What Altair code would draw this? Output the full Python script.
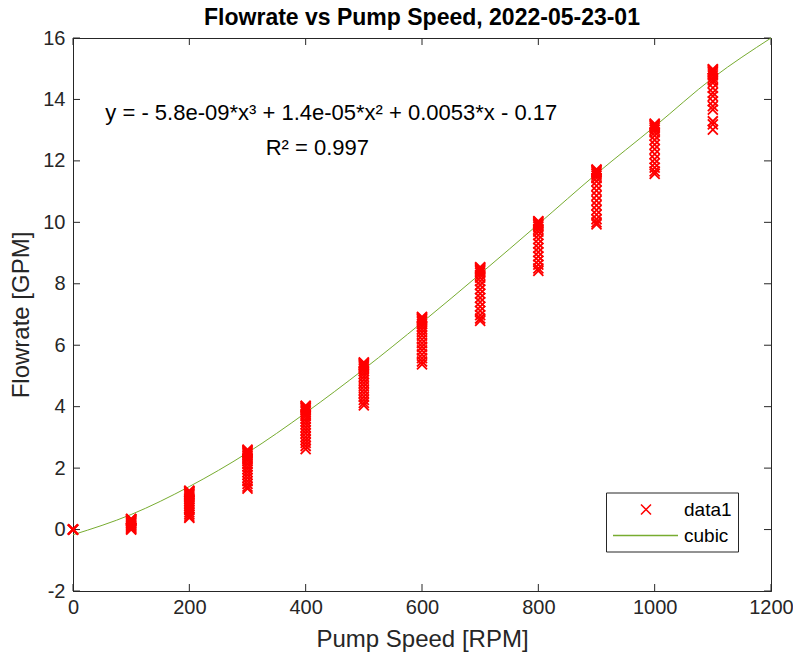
import altair as alt
import pandas as pd

# ---- data ----
speeds = [0, 100, 200, 300, 400, 500, 600, 700, 800, 900, 1000, 1100]
flow_0 = [0.0, 0.0, 0.0, 0.01, 0.0]
flow_100 = [0.35, 0.34, 0.33, 0.32, 0.30, 0.29, 0.27, 0.25, 0.22, 0.20, 0.17, 0.14, 0.11, 0.08, 0.05, 0.02, 0.0]
flow_200 = [1.27, 1.25, 1.23, 1.21, 1.18, 1.15, 1.12, 1.08, 1.04, 0.99, 0.93, 0.88, 0.82, 0.76, 0.70, 0.63, 0.56, 0.49, 0.42, 0.38]
flow_300 = [2.60, 2.58, 2.55, 2.52, 2.49, 2.45, 2.40, 2.35, 2.29, 2.22, 2.14, 2.05, 1.96, 1.87, 1.78, 1.68, 1.58, 1.49, 1.40, 1.33]
flow_400 = [4.03, 4.01, 3.98, 3.95, 3.91, 3.87, 3.82, 3.76, 3.69, 3.61, 3.52, 3.43, 3.33, 3.23, 3.13, 3.02, 2.92, 2.82, 2.72, 2.62]
flow_500 = [5.44, 5.42, 5.39, 5.36, 5.32, 5.28, 5.22, 5.15, 5.07, 4.98, 4.88, 4.77, 4.66, 4.55, 4.44, 4.33, 4.22, 4.12, 4.04]
flow_600 = [6.92, 6.90, 6.87, 6.84, 6.80, 6.75, 6.69, 6.61, 6.52, 6.42, 6.31, 6.19, 6.07, 5.95, 5.83, 5.70, 5.58, 5.47, 5.38]
flow_700 = [8.54, 8.52, 8.49, 8.45, 8.41, 8.36, 8.29, 8.20, 8.09, 7.96, 7.82, 7.68, 7.54, 7.40, 7.26, 7.12, 6.98, 6.87, 6.79]
flow_800 = [10.04, 10.02, 9.99, 9.95, 9.91, 9.86, 9.79, 9.70, 9.58, 9.45, 9.31, 9.17, 9.03, 8.89, 8.75, 8.62, 8.50, 8.42]
flow_900 = [11.72, 11.70, 11.67, 11.63, 11.58, 11.52, 11.44, 11.33, 11.19, 11.03, 10.87, 10.71, 10.55, 10.40, 10.25, 10.10, 10.00, 9.93]
flow_1000 = [13.21, 13.19, 13.16, 13.12, 13.07, 13.01, 12.93, 12.82, 12.68, 12.53, 12.38, 12.22, 12.06, 11.92, 11.78, 11.66, 11.58]
flow_1100 = [14.99, 14.97, 14.94, 14.90, 14.85, 14.78, 14.70, 14.62, 14.54, 14.38, 14.22, 14.11, 13.94, 13.78, 13.67, 13.29, 13.19, 13.02]
flows = [flow_0, flow_100, flow_200, flow_300, flow_400, flow_500, flow_600,
         flow_700, flow_800, flow_900, flow_1000, flow_1100]

curve_rpm = [0, 100, 200, 300, 400, 500, 600, 700, 800, 900, 1000, 1100, 1200]
curve_gpm = [-0.17, 0.49, 1.40, 2.50, 3.80, 5.22, 6.74, 8.32, 9.94, 11.58, 13.12, 14.70, 16.0]

eq_text = ["y = - 5.8e-09*x³ + 1.4e-05*x² + 0.0053*x - 0.17", "R² = 0.997"]
eq_rpm = [444, 420]
eq_gpm = [13.55, 12.42]

x_ticks = [0, 200, 400, 600, 800, 1000, 1200]
y_ticks = [-2, 0, 2, 4, 6, 8, 10, 12, 14, 16]
series_names = ["data1", "cubic"]
series_colors = ["#ff0000", "#77ac30"]

# ---- tables ----
pts = pd.DataFrame(
    [{"rpm": s, "gpm": v, "series": "data1"} for s, col in zip(speeds, flows) for v in col]
)
curve = pd.DataFrame({"rpm": curve_rpm, "gpm": curve_gpm, "series": "cubic"})
eq = pd.DataFrame({"rpm": eq_rpm, "gpm": eq_gpm, "label": eq_text})
xt = pd.DataFrame({"rpm": x_ticks})
yt = pd.DataFrame({"gpm": y_ticks})

W, H = 698, 553
FONT = "Liberation Sans"
AX = "#262626"
# symbols (scaled by sqrt(size)/2 = 10 px per unit at size 400)
X_SHIFT = 2.3
X_PATH = f"M{X_SHIFT-0.5},-0.5L{X_SHIFT+0.5},0.5M{X_SHIFT+0.5},-0.5L{X_SHIFT-0.5},0.5"
LINE_PATH = "M-1,0L5.5,0"

xscale = alt.Scale(domain=[0, 1200], nice=False, zero=False)
yscale = alt.Scale(domain=[-2, 16], nice=False, zero=False)
minus_fix = "replace(datum.label, '\u2212', '-')"

x_enc = alt.X("rpm:Q", scale=xscale,
              axis=alt.Axis(values=x_ticks, title="Pump Speed [RPM]", format="d",
                            labelFlush=False, labelExpr=minus_fix))
y_enc = alt.Y("gpm:Q", scale=yscale,
              axis=alt.Axis(values=y_ticks, title="Flowrate [GPM]", format="d",
                            labelFlush=False, labelExpr=minus_fix))

leg = alt.Legend(
    title=None, orient="none", legendX=533, legendY=454.5,
    fillColor="white", strokeColor=AX, padding=6,
    labelFontSize=19, labelFont=FONT, labelColor="black",
    symbolSize=400, symbolStrokeWidth=1.5, symbolFillColor="transparent",
    labelOffset=50, rowPadding=5,
)
color = alt.Color("series:N", scale=alt.Scale(domain=series_names, range=series_colors),
                  legend=leg)
shape = alt.Shape("series:N", scale=alt.Scale(domain=series_names, range=[X_PATH, LINE_PATH]),
                  legend=leg)

points = alt.Chart(pts).mark_point(filled=False, size=400, strokeWidth=1.8, opacity=1,
                                   xOffset=-X_SHIFT * 10).encode(
    x=x_enc, y=y_enc, color=color, shape=shape)
line = alt.Chart(curve).mark_line(strokeWidth=1, interpolate="monotone").encode(
    x="rpm:Q", y="gpm:Q", color=color
)
text = alt.Chart(eq).mark_text(font=FONT, fontSize=22, color="black", align="center",
                               baseline="middle").encode(
    x="rpm:Q", y="gpm:Q", text="label:N"
)
tk = 7
xb = alt.Chart(xt).mark_rule(color=AX, strokeWidth=1).encode(
    x="rpm:Q", y=alt.value(H), y2=alt.value(H - tk))
xtop = alt.Chart(xt).mark_rule(color=AX, strokeWidth=1).encode(
    x="rpm:Q", y=alt.value(0), y2=alt.value(tk))
yl = alt.Chart(yt).mark_rule(color=AX, strokeWidth=1).encode(
    y="gpm:Q", x=alt.value(0), x2=alt.value(tk))
yr = alt.Chart(yt).mark_rule(color=AX, strokeWidth=1).encode(
    y="gpm:Q", x=alt.value(W), x2=alt.value(W - tk))

chart = alt.layer(xb, xtop, yl, yr, line, points, text).properties(
    width=W, height=H,
    autosize=alt.AutoSizeParams(type="none"),
    padding={"left": 65, "top": 30, "right": 22, "bottom": 63},
    title=alt.TitleParams("Flowrate vs Pump Speed, 2022-05-23-01", font=FONT, fontSize=23,
                          fontWeight="bold", color="black", anchor="middle", offset=-2),
).configure_view(stroke=AX, strokeWidth=1).configure_axis(
    grid=False, ticks=False, domainColor=AX, domainWidth=1,
    labelColor=AX, titleColor=AX, labelFont=FONT, titleFont=FONT,
    labelFontSize=20, titleFontSize=24, titleFontWeight="normal",
).configure_axisX(labelPadding=6, titlePadding=10).configure_axisY(labelPadding=8, titlePadding=9)

chart.save("out.html", embed_options={"renderer": "svg", "actions": False})
